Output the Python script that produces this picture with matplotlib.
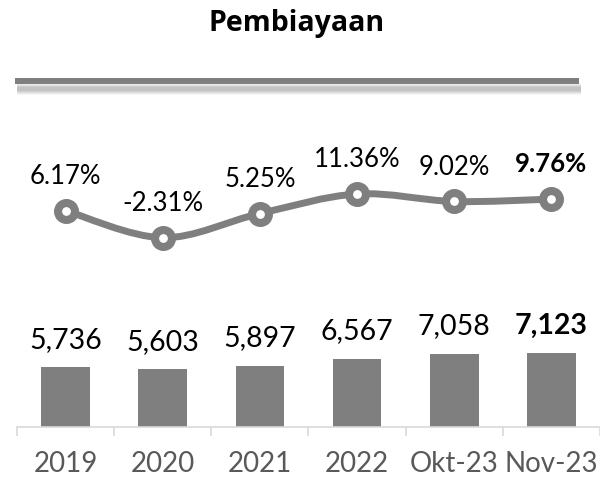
import matplotlib
matplotlib.use("Agg")
import matplotlib.pyplot as plt
from matplotlib.path import Path
from matplotlib.patches import PathPatch
from matplotlib.lines import Line2D

categories = ['2019', '2020', '2021', '2022', 'Okt-23', 'Nov-23']
values = [5736, 5603, 5897, 6567, 7058, 7123]
growth = [6.17, -2.31, 5.25, 11.36, 9.02, 9.76]
title = 'Pembiayaan'

GRAY = '#7f7f7f'
W, H = 600, 479
plt.rcParams['font.family'] = ['Lato', 'DejaVu Sans']
fig = plt.figure(figsize=(6.0, 4.79), dpi=100)

def fx(px):
    return px / W

def fy(py):
    return 1 - py / H

ax_left, ax_right = 17, 600
ax_bottom, ax_top = 427, 100
pos = [fx(ax_left), fy(ax_bottom), fx(ax_right) - fx(ax_left), fy(ax_top) - fy(ax_bottom)]

ax = fig.add_axes(pos)
ax2 = fig.add_axes(pos, sharex=ax)
ax2.patch.set_visible(False)

x = list(range(len(categories)))
ax.set_xlim(-0.5, len(categories) - 0.5)
ax.set_ylim(0, 31442)
ax2.set_ylim(-61.52, 40.76)

# Bars
ax.bar(x, values, width=0.5, color=GRAY, zorder=2)
for i, v in enumerate(values):
    ax.annotate(f'{v:,}', (i, v), xytext=(0, 13.8), textcoords='offset points',
                ha='center', va='baseline', fontsize=20.5, color='black',
                fontweight='bold' if i == len(values) - 1 else 'normal')

# Smoothed line (Bezier through data points)
pts = list(zip(x, growth))
verts = [pts[0]]
codes = [Path.MOVETO]
n = len(pts)
for i in range(n - 1):
    p0 = pts[i - 1] if i > 0 else pts[i]
    p1 = pts[i]
    p2 = pts[i + 1]
    p3 = pts[i + 2] if i + 2 < n else pts[i + 1]
    c1 = (p1[0] + (p2[0] - p0[0]) / 6, p1[1] + (p2[1] - p0[1]) / 6)
    c2 = (p2[0] - (p3[0] - p1[0]) / 6, p2[1] - (p3[1] - p1[1]) / 6)
    verts += [c1, c2, p2]
    codes += [Path.CURVE4] * 3
ax2.add_patch(PathPatch(Path(verts, codes), facecolor='none', edgecolor=GRAY,
                        lw=5, capstyle='round', joinstyle='round', zorder=3))
ax2.plot(x, growth, linestyle='none', marker='o', markersize=12.2,
         markerfacecolor='white', markeredgecolor=GRAY, markeredgewidth=5.8, zorder=4)
for i, g in enumerate(growth):
    ax2.annotate(f'{g:.2f}%', (i, g), xytext=(0, 19.2), textcoords='offset points',
                 ha='center', va='baseline', fontsize=18.5, color='black',
                 fontweight='bold' if i == len(growth) - 1 else 'normal')

# Axes styling
for a in (ax, ax2):
    for s in a.spines.values():
        s.set_visible(False)
    a.set_yticks([])
ax.spines['bottom'].set_visible(True)
ax.spines['bottom'].set_color('#d9d9d9')
ax.spines['bottom'].set_linewidth(1.2)
ax.set_xticks(x)
ax.set_xticklabels(categories, fontsize=20, color='#595959')
ax.tick_params(axis='x', which='major', length=0, pad=17)
ax.set_xticks([i - 0.5 for i in range(len(categories) + 1)], minor=True)
ax.tick_params(axis='x', which='minor', length=6.5, width=1.2, color='#d9d9d9', direction='out')
ax2.tick_params(axis='x', which='both', bottom=False, labelbottom=False)

# Title
fig.text(fx(296.5), fy(30.5), title, ha='center', va='baseline', fontsize=20.5,
         fontweight='bold', color='black', family=['Open Sans', 'DejaVu Sans'])

# Decorative rule with shadow
for lw, a in [(12, 0.07), (10, 0.09), (8, 0.12), (6, 0.15), (4, 0.15)]:
    fig.add_artist(Line2D([fx(17), fx(581)], [fy(88.5), fy(88.5)], color='#808080',
                          lw=lw * 0.72, alpha=a, solid_capstyle='butt'))
fig.add_artist(Line2D([fx(15), fx(579)], [fy(81), fy(81)], color=GRAY, lw=6 * 0.72,
                      solid_capstyle='butt'))

fig.savefig('out.png', dpi=100)
